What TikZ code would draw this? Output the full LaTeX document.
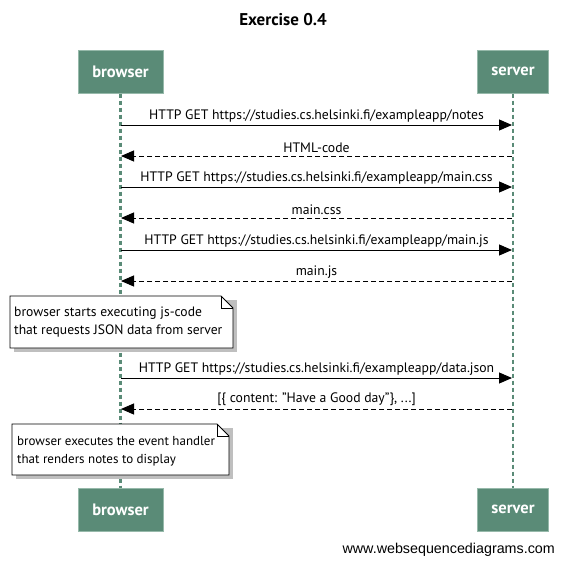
\documentclass[tikz,border=0pt]{standalone}
\usepackage{fontspec}
\setmainfont{PT Sans}
\newfontfamily\wsdfont{Liberation Sans}
\usetikzlibrary{arrows.meta}
\definecolor{actorfill}{RGB}{90,139,119}
\definecolor{actorline}{RGB}{150,185,170}
\definecolor{lifeline}{RGB}{90,139,119}
\tikzset{
  actor/.style={draw=actorline, line width=1pt, fill=actorfill, text=white, font=\bfseries\fontsize{16.5}{19}\selectfont, minimum width=85pt, minimum height=43pt, inner sep=0pt},
  lifel/.style={draw=lifeline, line width=2.2pt, dash pattern=on 4pt off 3pt},
  req/.style={draw=black, line width=1pt, -{Triangle[length=13pt,width=11pt]}},
  resp/.style={draw=black, line width=1pt, dash pattern=on 5pt off 3pt, -{Triangle[length=13pt,width=11pt]}},
  msg/.style={font=\fontsize{13.7}{15}\selectfont, inner sep=0pt},
  notetext/.style={font=\fontsize{13.6}{18}\selectfont, align=left, anchor=north west, inner sep=0pt},
}
\begin{document}
\begin{tikzpicture}[x=1pt,y=-1pt]
\useasboundingbox (0,0) rectangle (564,565);
\fill[white] (0,0) rectangle (564,565);
\node[font=\bfseries\fontsize{17}{20}\selectfont] (title) at (283,20) {Exercise 0.4};
% actors
\node[actor] (bt) at (120.5,71.5) {browser};
\node[actor, minimum width=71pt] (st) at (513,71.5) {server};
\node[actor] (bb) at (120.5,509.5) {browser};
\node[actor, minimum width=71pt] (sb) at (513,509.5) {server};
% lifelines
\draw[lifel] (bt.south) -- (bb.north);
\draw[lifel] (st.south) -- (sb.north);
% message anchors
\foreach \i/\y in {1/125,2/156,3/187,4/218,5/250,6/281,7/378,8/409}{
  \coordinate (b\i) at (121,\y);
  \coordinate (s\i) at (512,\y);
}
\draw[req] (b1) -- node[msg, above=2.5pt] (m1) {HTTP GET https://studies.cs.helsinki.fi/exampleapp/notes} (s1);
\draw[resp] (s2) -- node[msg, above=2.5pt] (m2) {HTML-code} (b2);
\draw[req] (b3) -- node[msg, above=2.5pt] (m3) {HTTP GET https://studies.cs.helsinki.fi/exampleapp/main.css} (s3);
\draw[resp] (s4) -- node[msg, above=2.5pt] (m4) {main.css} (b4);
\draw[req] (b5) -- node[msg, above=2.5pt] (m5) {HTTP GET https://studies.cs.helsinki.fi/exampleapp/main.js} (s5);
\draw[resp] (s6) -- node[msg, above=2.5pt] (m6) {main.js} (b6);
\draw[req] (b7) -- node[msg, above=2.5pt] (m7) {HTTP GET https://studies.cs.helsinki.fi/exampleapp/data.json} (s7);
\draw[resp] (s8) -- node[msg, above=2.5pt] (m8) {[\{ content: "Have a Good day"\}, ...]} (b8);
% note 1
\fill[black!25] (14,300) -- (237,300) -- (237,352) -- (14,352) -- cycle;
\draw[black, fill=white, line width=0.8pt] (10,296) -- (221,296) -- (233,308) -- (233,348) -- (10,348) -- cycle;
\draw[black, line width=0.8pt] (221,296) -- (221,308) -- (233,308);
\node[notetext] (n1) at (14,307) {browser starts executing js-code\\that requests JSON data from server};
% note 2
\fill[black!25] (16,428) -- (233,428) -- (233,479) -- (16,479) -- cycle;
\draw[black, fill=white, line width=0.8pt] (12,424) -- (217,424) -- (229,436) -- (229,475) -- (12,475) -- cycle;
\draw[black, line width=0.8pt] (217,424) -- (217,436) -- (229,436);
\node[notetext, font=\fontsize{13}{18}\selectfont] (n2) at (17,436) {browser executes the event handler\\that renders notes to display};
% footer
\node[font=\wsdfont\fontsize{14.3}{16}\selectfont, anchor=east, inner sep=0pt] (wsd) at (555,550) {www.websequencediagrams.com};
\end{tikzpicture}
\end{document}
